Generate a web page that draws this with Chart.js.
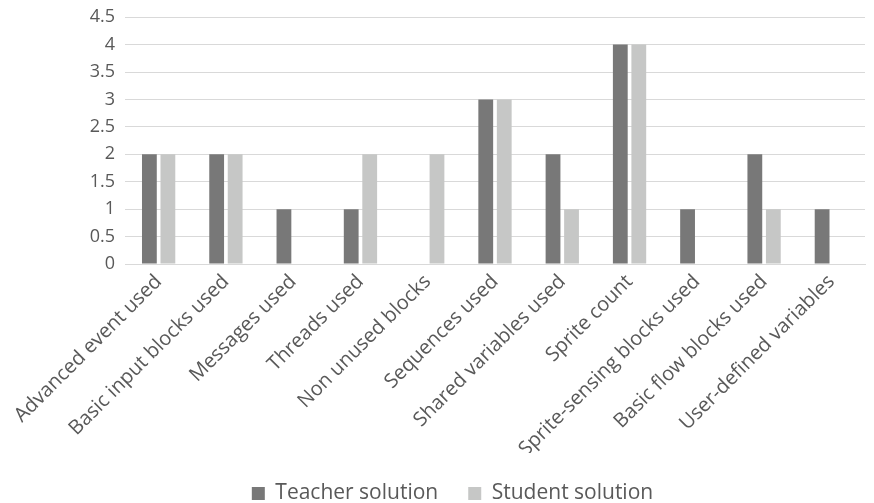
<!DOCTYPE html>
<html>
<head>
<meta charset="utf-8">
<script src="https://cdn.jsdelivr.net/npm/chart.js@4/dist/chart.umd.min.js"></script>
<style>
  body { margin: 0; background: #fff; }
  #wrap { width: 874px; height: 503px; }
</style>
</head>
<body>
<div id="wrap"><canvas id="chart" width="874" height="503"></canvas></div>
<script>
const categories = [
  "Advanced event used", "Basic input blocks used", "Messages used", "Threads used",
  "Non unused blocks", "Sequences used", "Shared variables used", "Sprite count",
  "Sprite-sensing blocks used", "Basic flow blocks used", "User-defined variables"
];
const teacherSolution = [2, 2, 1, 1, 0, 3, 2, 4, 1, 2, 1];
const studentSolution = [2, 2, 0, 2, 2, 3, 1, 4, 0, 1, 0];

const textColor = "#595959";
const fontFamily = "'Open Sans', sans-serif";

// legend in the original sits a bit right of the canvas centre
const legendShift = {
  id: "legendShift",
  afterLayout(chart) {
    chart.legend.left += 20;
    chart.legend.right += 20;
  },
};

new Chart(document.getElementById("chart"), {
  type: "bar",
  data: {
    labels: categories,
    datasets: [
      {
        label: "Teacher solution",
        data: teacherSolution,
        backgroundColor: "#787878",
        barPercentage: 0.8,
        categoryPercentage: 0.55,
      },
      {
        label: "Student solution",
        data: studentSolution,
        backgroundColor: "#c6c7c6",
        barPercentage: 0.8,
        categoryPercentage: 0.55,
      },
    ],
  },
  options: {
    responsive: false,
    animation: false,
    layout: {
      padding: { left: 0, right: 9, top: 0, bottom: -11 },
    },
    scales: {
      x: {
        grid: { display: false },
        border: { color: "#d9d9d9" },
        afterFit(scale) { scale.height = 189; },
        ticks: {
          color: textColor,
          font: { family: fontFamily, size: 20 },
          maxRotation: 45,
          minRotation: 45,
          autoSkip: false,
          padding: -2,
        },
      },
      y: {
        min: 0,
        max: 4.5,
        grid: { color: "#d9d9d9", drawTicks: false },
        border: { display: false },
        afterFit(scale) { scale.width = 125; },
        ticks: {
          stepSize: 0.5,
          color: textColor,
          font: { family: fontFamily, size: 18, lineHeight: 0.8 },
          padding: 10,
          callback: v => String(v),
        },
      },
    },
    plugins: {
      legend: {
        position: "bottom",
        labels: {
          color: textColor,
          font: { family: fontFamily, size: 21 },
          boxWidth: 13,
          boxHeight: 13,
          padding: 30,
        },
      },
      tooltip: { enabled: false },
    },
  },
  plugins: [legendShift],
});
</script>
</body>
</html>
